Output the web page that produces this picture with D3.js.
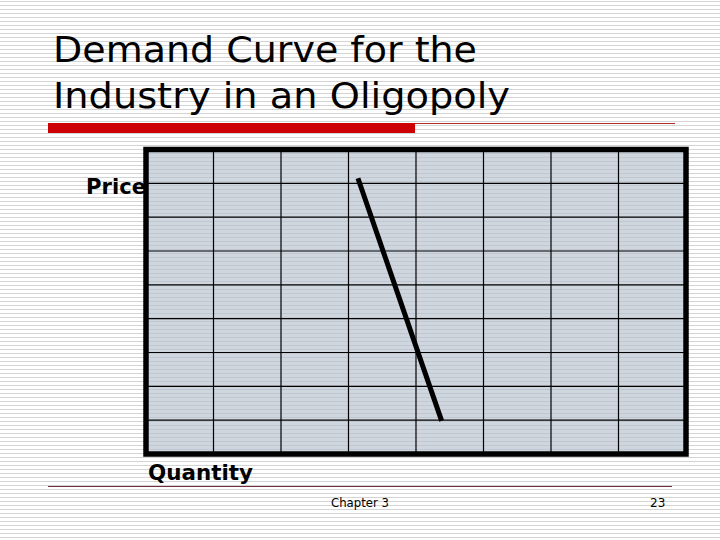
<!DOCTYPE html>
<html>
<head>
<meta charset="utf-8">
<script src="https://cdn.jsdelivr.net/npm/d3@7"></script>
<style>
  body { margin: 0; background: #fff; }
  svg { display: block; }
</style>
</head>
<body>
<svg id="chart"></svg>
<script>
// slide text
var titleLines = ["Demand Curve for the", "Industry in an Oligopoly"];
var yLabel = "Price";
var xLabel = "Quantity";
var footer = "Chapter 3";
var pageNum = "23";

// grid cells (no tick labels shown, just the gridlines)
var xTicks = [0, 1, 2, 3, 4, 5, 6, 7, 8];
var yTicks = [0, 1, 2, 3, 4, 5, 6, 7, 8, 9];

// demand curve, in grid units
var demandQ = [3.14, 4.38];
var demandP = [8.15, 0.98];

var width = 720, height = 540;
var svg = d3.select("#chart").attr("width", width).attr("height", height);

// striped slide background
var defs = svg.append("defs");
var pat = defs.append("pattern").attr("id", "stripes")
    .attr("width", 8).attr("height", 4).attr("patternUnits", "userSpaceOnUse");
pat.append("rect").attr("width", 8).attr("height", 4).attr("fill", "#ffffff");
pat.append("rect").attr("y", 1).attr("width", 8).attr("height", 1).attr("fill", "#d4d4d4");

var pat2 = defs.append("pattern").attr("id", "stripes2")
    .attr("width", 8).attr("height", 4).attr("patternUnits", "userSpaceOnUse");
pat2.append("rect").attr("width", 8).attr("height", 4).attr("fill", "#cfd6de");
pat2.append("rect").attr("y", 1).attr("width", 8).attr("height", 1).attr("fill", "#bfc8d2");

svg.append("rect").attr("width", width).attr("height", height).attr("fill", "url(#stripes)");

// title
svg.append("g").selectAll("text")
    .data(titleLines)
    .enter()
    .append("text")
    .attr("x", 53)
    .attr("y", function(d, i) { return 62 + i * 46; })
    .attr("font-family", "DejaVu Sans, Verdana, sans-serif")
    .attr("font-size", 35)
    .attr("textLength", function(d, i) { return i == 0 ? 424 : 457; })
    .attr("lengthAdjust", "spacingAndGlyphs")
    .attr("fill", "#000")
    .text(function(d) { return d; });

// red rule under title
svg.append("line").attr("x1", 414).attr("x2", 675).attr("y1", 123.5).attr("y2", 123.5)
    .attr("stroke", "#b03030").attr("stroke-width", 1);
svg.append("rect").attr("x", 48).attr("y", 123).attr("width", 367).attr("height", 10)
    .attr("fill", "#cc0000");

// plot area
var plotL = 146, plotR = 686, plotT = 149.5, plotB = 454;
var x = d3.scaleLinear().domain([0, 8]).range([plotL, plotR]);
var y = d3.scaleLinear().domain([0, 9]).range([plotB, plotT]);

svg.append("rect")
    .attr("x", plotL).attr("y", plotT)
    .attr("width", plotR - plotL).attr("height", plotB - plotT)
    .attr("fill", "url(#stripes2)");

var grid = svg.append("g");
grid.selectAll(".vx")
    .data(xTicks.slice(1, -1))
    .enter()
    .append("line")
    .attr("x1", function(d) { return x(d); })
    .attr("x2", function(d) { return x(d); })
    .attr("y1", plotT).attr("y2", plotB)
    .attr("stroke", "#000").attr("stroke-width", 1.2);

grid.selectAll(".hy")
    .data(yTicks.slice(1, -1))
    .enter()
    .append("line")
    .attr("y1", function(d) { return y(d); })
    .attr("y2", function(d) { return y(d); })
    .attr("x1", plotL).attr("x2", plotR)
    .attr("stroke", "#000").attr("stroke-width", 1.2);

// heavy frame
svg.append("rect")
    .attr("x", plotL).attr("y", plotT)
    .attr("width", plotR - plotL).attr("height", plotB - plotT)
    .attr("fill", "none").attr("stroke", "#000").attr("stroke-width", 5.5);

// demand line
var pts = demandQ.map(function(q, i) { return [q, demandP[i]]; });
var line = d3.line()
    .x(function(d) { return x(d[0]); })
    .y(function(d) { return y(d[1]); });
svg.append("path")
    .attr("d", line(pts))
    .attr("fill", "none")
    .attr("stroke", "#000")
    .attr("stroke-width", 5);

// axis labels
svg.append("text").attr("x", 86).attr("y", 194)
    .attr("font-family", "DejaVu Sans, Verdana, sans-serif")
    .attr("font-weight", "bold").attr("font-size", 22)
    .attr("textLength", 60).attr("lengthAdjust", "spacingAndGlyphs")
    .text(yLabel);
svg.append("text").attr("x", 148).attr("y", 480)
    .attr("font-family", "DejaVu Sans, Verdana, sans-serif")
    .attr("font-weight", "bold").attr("font-size", 22)
    .attr("textLength", 105).attr("lengthAdjust", "spacingAndGlyphs")
    .text(xLabel);

// footer
svg.append("line").attr("x1", 48).attr("x2", 672).attr("y1", 486.5).attr("y2", 486.5)
    .attr("stroke", "#703040").attr("stroke-width", 1);
svg.append("text").attr("x", 331).attr("y", 507)
    .attr("font-family", "DejaVu Sans, Verdana, sans-serif")
    .attr("font-size", 12)
    .attr("textLength", 58).attr("lengthAdjust", "spacingAndGlyphs")
    .text(footer);
svg.append("text").attr("x", 650).attr("y", 507)
    .attr("font-family", "DejaVu Sans, Verdana, sans-serif")
    .attr("font-size", 12)
    .text(pageNum);
</script>
</body>
</html>
